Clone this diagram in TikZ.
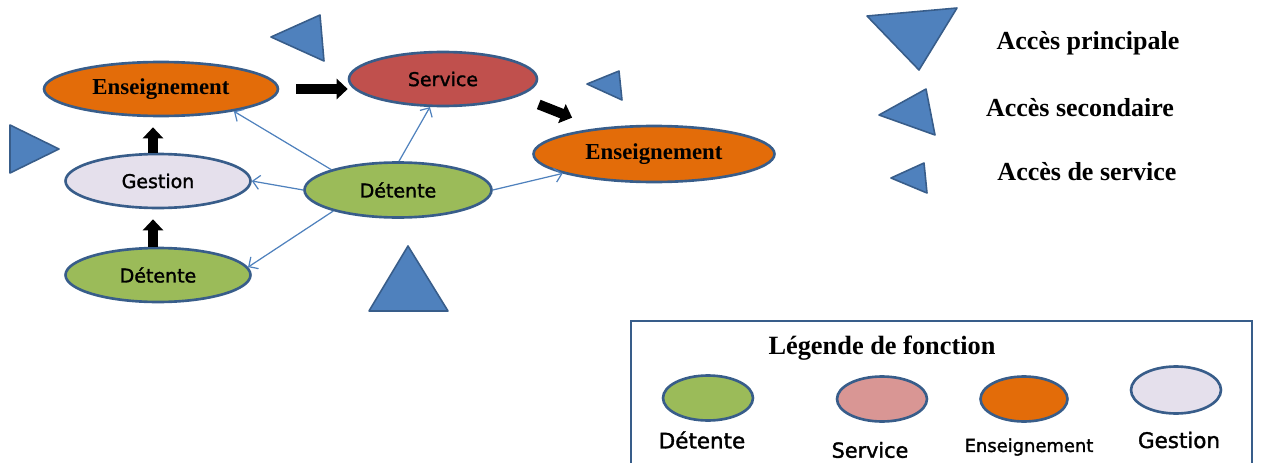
\documentclass[tikz,border=0pt]{standalone}
\usepackage{fontspec}
\setmainfont{Liberation Serif}
\newfontfamily\etiquette[RawFeature={embolden=1.6}]{DejaVu Sans}
\usetikzlibrary{arrows.meta,shapes.geometric,positioning}
\definecolor{bordbleu}{HTML}{385D8A}
\definecolor{accesbleu}{HTML}{4F81BD}
\definecolor{orangeens}{HTML}{E36C09}
\definecolor{rougeserv}{HTML}{C0504D}
\definecolor{vertdet}{HTML}{9BBB59}
\definecolor{lavgest}{HTML}{E5E0EC}
\definecolor{roseserv}{HTML}{D99694}

\begin{document}
\begin{tikzpicture}[
    x=0.02cm, y=-0.02cm,
    fonction/.style={ellipse, draw=bordbleu, line width=1.5pt, inner sep=0pt, minimum width=3.7cm, minimum height=1.08cm, font=\etiquette\fontsize{10.8}{12}\selectfont},
    serif/.style={font=\bfseries\fontsize{13}{15}\selectfont},
    acces/.style={fill=accesbleu, draw=bordbleu, line width=0.9pt, line join=round},
    titre/.style={font=\bfseries\fontsize{14.8}{17}\selectfont, inner sep=0pt},
    legende/.style={ellipse, draw=bordbleu, line width=1.5pt, inner sep=0pt, minimum width=1.8cm, minimum height=0.9cm},
    nom/.style={font=\etiquette\fontsize{12.2}{14}\selectfont, inner sep=0pt},
    fleche/.style={-{Straight Barb[length=4pt,width=8pt]}, accesbleu, line width=0.7pt},
    bloc/.style={-{Triangle[length=0.22cm,width=0.4cm]}, line width=0.2cm, black}
]
\useasboundingbox (0,0) rectangle (1262,463);
\clip (0,0) rectangle (1262,463);

% fonctions
\node[fonction, fill=orangeens, serif, minimum width=4.68cm] (ens1) at (161,89) {Enseignement};
\node[fonction, fill=rougeserv, minimum width=3.76cm] (serv) at (443,79) {Service};
\node[fonction, fill=orangeens, serif, minimum width=4.82cm, minimum height=1.12cm] (ens2) at (654,154) {Enseignement};
\node[fonction, fill=lavgest] (gest) at (158,181) {Gestion};
\node[fonction, fill=vertdet, minimum width=3.74cm, minimum height=1.1cm] (det1) at (398,190) {Détente};
\node[fonction, fill=vertdet] (det2) at (158,275) {Détente};

% liaisons
\draw[bloc, shorten <=0.34cm] (ens1.east) -- (ens1.east -| serv.west);
\draw[bloc, shorten <=0.44cm, shorten >=0.56cm] (serv.-13) -- (ens2.155);
\draw[bloc, shorten >=0.2cm] ([xshift=-0.1cm]gest.north) -- ([xshift=-0.1cm]gest.north |- ens1.south);
\draw[bloc, shorten >=0.2cm] ([xshift=-0.1cm]det2.north) -- ([xshift=-0.1cm]det2.north |- gest.south);
\draw[fleche] (det1.163) -- (ens1.-17);
\draw[fleche] (det1.88) -- (serv.245);
\draw[fleche] (det1.180) -- (gest.east);
\draw[fleche] (det1.198) -- (det2.5);
\draw[fleche] (det1.east) -- (ens2.192);

% acces
\draw[acces] (271,37) -- (320,15) -- (324,61) -- cycle;
\draw[acces] (10,125) -- (59,149) -- (10,173) -- cycle;
\draw[acces] (587,84) -- (619,71) -- (622,100) -- cycle;
\draw[acces] (369,311) -- (408,246) -- (448,311) -- cycle;

% legende des acces
\draw[acces] (867,16) -- (957,8) -- (919,70) -- cycle;
\draw[acces] (879,115) -- (926,89) -- (935,135) -- cycle;
\draw[acces] (891,178) -- (924,163) -- (927,193) -- cycle;
\node[titre] (principal) at (1088,43) {Accès principale};
\node[titre] (secondaire) at (1080,108) {Accès secondaire};
\node[titre] (deservice) at (1087,172) {Accès de service};

% legende des fonctions
\draw[bordbleu, line width=1.5pt] (631,321) rectangle (1252,480);
\node[titre, font=\bfseries\fontsize{15}{17}\selectfont] (legtitre) at (882,348) {Légende de fonction};
\node[legende, fill=vertdet] (ldet) at (708,398) {};
\node[legende, fill=roseserv] (lserv) at (882,399) {};
\node[legende, fill=orangeens, minimum width=1.74cm] (lens) at (1024,399) {};
\node[legende, fill=lavgest, minimum height=0.94cm] (lgest) at (1176,390) {};
\node[nom] (ndet) at (702,440) {Détente};
\node[nom, font=\etiquette\fontsize{11.8}{14}\selectfont] (nserv) at (870,450) {Service};
\node[nom, font=\etiquette\fontsize{10.2}{12}\selectfont] (nens) at (1029,447) {Enseignement};
\node[nom] (ngest) at (1179,440) {Gestion};
\end{tikzpicture}
\end{document}
